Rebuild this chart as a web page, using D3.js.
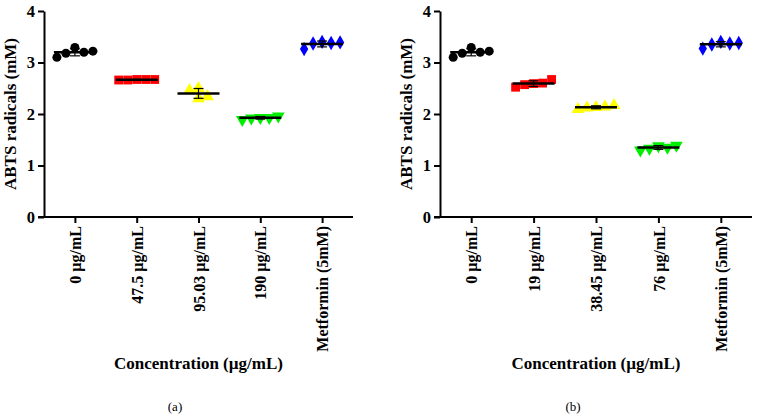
<!DOCTYPE html>
<html>
<head>
<meta charset="utf-8">
<script src="https://cdn.jsdelivr.net/npm/d3@7"></script>
<style>
  body { margin: 0; background: #fff; }
</style>
</head>
<body>
<svg id="chart" width="758" height="418" font-family="Liberation Serif"></svg>
<script>
// data
const categoriesA = ["0 \u00b5g/mL", "47.5 \u00b5g/mL", "95.03 \u00b5g/mL", "190 \u00b5g/mL", "Metformin (5mM)"];
const categoriesB = ["0 \u00b5g/mL", "19 \u00b5g/mL", "38.45 \u00b5g/mL", "76 \u00b5g/mL", "Metformin (5mM)"];

const valuesA = [
    [3.29, 3.18, 3.20, 3.10, 3.22],
    [2.67, 2.66, 2.67, 2.66, 2.67],
    [2.50, 2.30, 2.46, 2.34],
    [1.93, 1.92, 1.93, 1.89, 1.96],
    [3.40, 3.37, 3.38, 3.26, 3.39]
];
const valuesB = [
    [3.29, 3.18, 3.20, 3.10, 3.22],
    [2.59, 2.57, 2.60, 2.52, 2.67],
    [2.13, 2.12, 2.14, 2.09, 2.17],
    [1.38, 1.33, 1.35, 1.30, 1.39],
    [3.40, 3.35, 3.37, 3.27, 3.38]
];

const yTicks = [0, 1, 2, 3, 4];
const groupColors = ["#000000", "#ff0000", "#ffff00", "#00ee00", "#0000ff"];
const groupShapes = ["circle", "square", "triangle", "triangleDown", "diamond"];

const yLabel = "ABTS radicals (mM)";
const xLabel = "Concentration (\u00b5g/mL)";

const FONT = "Liberation Serif";

const svg = d3.select("#chart");

function symbolPath(shape) {
    if (shape === "circle") return d3.symbol(d3.symbolCircle, 64)();
    if (shape === "square") return d3.symbol(d3.symbolSquare, 78)();
    if (shape === "diamond") return d3.symbol(d3.symbolDiamond, 60)();
    return d3.symbol(d3.symbolTriangle, 70)();
}

// spread overlapping points sideways, like a scatter dot plot
function dodge(vals, y, step, minDist) {
    const placed = [];
    const order = [0, -1, 1, -2, 2, -3, 3];
    vals.forEach(v => {
        const py = y(v);
        for (const k of order) {
            const dx = k * step;
            const ok = placed.every(p => Math.abs(p.dx - dx) >= step * 0.9 || Math.abs(p.py - py) >= minDist);
            if (ok) { placed.push({v: v, dx: dx, py: py}); break; }
        }
    });
    return placed;
}

function drawPanel(opts) {
    const g = svg.append("g");

    let y = d3.scaleLinear().domain([0, 4]).range([217, 11]);
    let x = d3.scalePoint().domain(opts.categories).range([opts.left, opts.right]).padding(0.5);

    // y axis
    const ya = g.append("g")
        .attr("transform", "translate(" + opts.left + ",0)")
        .call(d3.axisLeft(y).tickValues(yTicks).tickFormat(d3.format("d"))
            .tickSize(6).tickPadding(3).tickSizeOuter(0));
    ya.attr("font-family", FONT);
    ya.select(".domain").attr("stroke-width", 2);
    ya.selectAll(".tick line").attr("stroke-width", 2);
    ya.selectAll(".tick text")
        .attr("font-size", "16.5px").attr("font-weight", "700").attr("fill", "#000");

    // x axis
    const xa = g.append("g")
        .attr("transform", "translate(0," + y(0) + ")")
        .call(d3.axisBottom(x).tickSize(6).tickSizeOuter(0));
    xa.attr("font-family", FONT);
    xa.select(".domain").remove();
    xa.append("line")
        .attr("x1", opts.left - 6).attr("x2", opts.right)
        .attr("stroke", "#000").attr("stroke-width", 2);
    xa.selectAll(".tick line").attr("stroke-width", 2);
    xa.selectAll(".tick text")
        .attr("font-size", "16px").attr("font-weight", "700").attr("fill", "#000")
        .attr("text-anchor", "end")
        .attr("transform", "rotate(-90)")
        .attr("x", -9).attr("y", 0).attr("dy", "0.35em");

    // points
    opts.values.forEach((vals, i) => {
        const cx = x(opts.categories[i]);
        const pts = dodge(vals, y, 9, 10);
        const shape = groupShapes[i];
        g.selectAll("path.pt" + i).data(pts).enter()
            .append("path")
            .attr("class", "pt" + i)
            .attr("d", symbolPath(shape))
            .attr("fill", groupColors[i])
            .attr("transform", d => "translate(" + (cx + d.dx) + "," + d.py + ")" + (shape === "triangleDown" ? " rotate(180)" : ""));

        const mean = d3.mean(vals);
        const sd = d3.deviation(vals) || 0;
        // sd error bar
        g.append("line")
            .attr("x1", cx).attr("x2", cx)
            .attr("y1", y(mean - sd)).attr("y2", y(mean + sd))
            .attr("stroke", "#000").attr("stroke-width", 1.2);
        [mean - sd, mean + sd].forEach(v => {
            g.append("line")
                .attr("x1", cx - 5).attr("x2", cx + 5)
                .attr("y1", y(v)).attr("y2", y(v))
                .attr("stroke", "#000").attr("stroke-width", 1.2);
        });
        // mean line
        g.append("line")
            .attr("x1", cx - 21).attr("x2", cx + 21)
            .attr("y1", y(mean)).attr("y2", y(mean))
            .attr("stroke", "#000").attr("stroke-width", 2.5);
    });

    // axis titles
    g.append("text")
        .attr("transform", "translate(" + (opts.left - 28) + "," + y(2) + ") rotate(-90)")
        .attr("text-anchor", "middle")
        .attr("font-size", "17px").attr("font-weight", "700")
        .text(yLabel);

    const mid = x(opts.categories[2]);
    g.append("text")
        .attr("x", mid).attr("y", 369)
        .attr("text-anchor", "middle")
        .attr("font-size", "17px").attr("font-weight", "700")
        .text(xLabel);

    g.append("text")
        .attr("x", opts.panelX).attr("y", 411)
        .attr("text-anchor", "middle")
        .attr("font-size", "13px")
        .text(opts.tag);
}

drawPanel({categories: categoriesA, values: valuesA, left: 44, right: 353, panelX: 175, tag: "(a)"});
drawPanel({categories: categoriesB, values: valuesB, left: 440, right: 752, panelX: 573, tag: "(b)"});
</script>
</body>
</html>
